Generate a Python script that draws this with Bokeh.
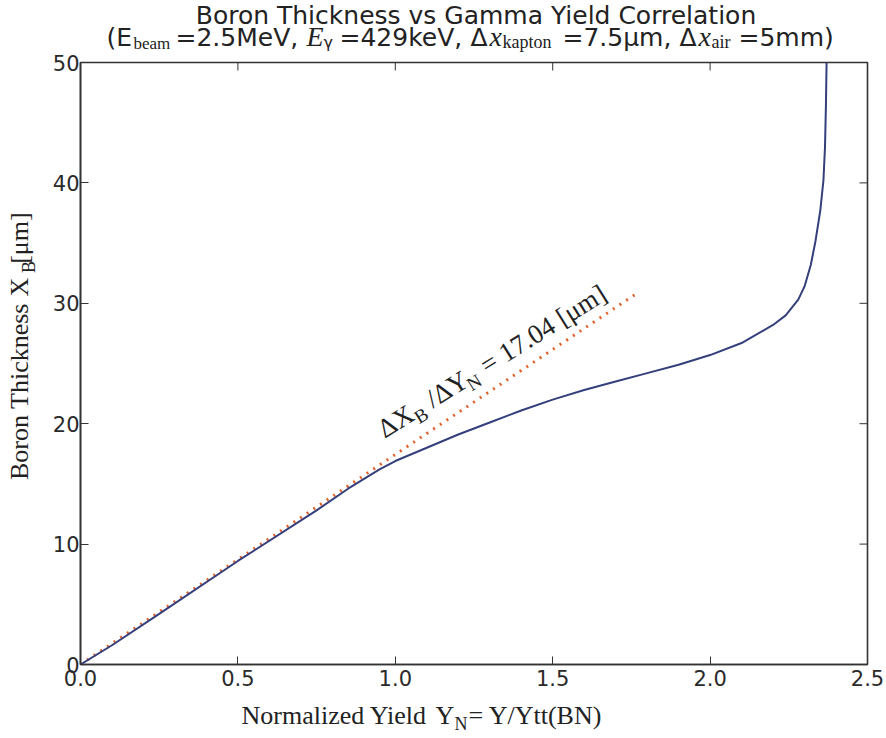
import math
from bokeh.plotting import figure
from bokeh.layouts import column, row
from bokeh.models import Range1d, Label, FixedTicker
from bokeh.embed import file_html
from bokeh.resources import INLINE

# ---------------- data ----------------
yield_norm = [0.0, 0.1, 0.25, 0.5, 0.75, 0.85, 0.95, 1.0, 1.1, 1.2, 1.3, 1.4, 1.5,
              1.6, 1.7, 1.8, 1.9, 2.0, 2.1, 2.2, 2.24, 2.28, 2.30, 2.32, 2.335,
              2.35, 2.36, 2.365, 2.368, 2.37]
thickness = [0.0, 1.6, 4.2, 8.6, 12.8, 14.6, 16.2, 16.9, 18.0, 19.1, 20.1, 21.1, 22.0,
             22.8, 23.5, 24.2, 24.9, 25.7, 26.7, 28.2, 29.0, 30.3, 31.4, 33.2, 35.2,
             37.7, 40.2, 43.0, 46.5, 50.0]
fit_x = [0.0, 1.76]
fit_y = [0.0, 30.7]
slope_value = "17.04"
x_ticks = [0.0, 0.5, 1.0, 1.5, 2.0, 2.5]
y_ticks = [0, 10, 20, 30, 40, 50]
x_range = (0.0, 2.5)
y_range = (0.0, 50.0)

# ---------------- layout (page pixels) ----------------
TOTAL_W = 884
TOP_H = 52              # title panel
LEFT_W = 48             # y-label panel
MAIN_W = TOTAL_W - LEFT_W
ML, MR, MT, MB = 32, 17, 10, 34
MAIN_H = MT + 602 + MB
BOT_H = 736 - TOP_H - MAIN_H   # x-label panel
FL, FR = LEFT_W + ML, LEFT_W + MAIN_W - MR
FT, FB = TOP_H + MT, TOP_H + MAIN_H - MB

def X(px):
    return x_range[0] + (px - FL) / (FR - FL) * (x_range[1] - x_range[0])

def Y(py):
    return y_range[0] + (FB - py) / (FB - FT) * (y_range[1] - y_range[0])

TXT = "#222222"
SANS = "DejaVu Sans"
SER = "Liberation Serif"
K = 0.32   # measured drift of the drawn baseline (in em), compensated below

def mk_label(px, py, text, font=SANS, size=22, style="normal", align="left", angle=0.0,
             to_data=None):
    """px, py: wanted baseline anchor in page pixels."""
    if abs(angle - math.pi / 2) < 1e-6:
        qx = px - 0.47 * size
        qy = py + 0.77 * size
    else:
        qx = px - K * size * math.sin(angle)
        qy = py - K * size * math.cos(angle)
    if to_data is not None:
        qx, qy = to_data(qx, qy)
    return Label(x=qx, y=qy, text=text, text_font=font, text_font_size=f"{size}px",
                 text_font_style=style, text_align=align, text_baseline="alphabetic",
                 text_color=TXT, angle=angle)

def text_panel(w, h, x0, y0):
    f = figure(width=w, height=h, x_range=Range1d(x0, x0 + w), y_range=Range1d(y0 + h, y0),
               output_backend="svg", toolbar_location=None, min_border=0, title=None,
               x_axis_location=None, y_axis_location=None)
    f.xgrid.grid_line_color = None
    f.ygrid.grid_line_color = None
    f.outline_line_color = None
    f.background_fill_color = "white"
    f.border_fill_color = "white"
    return f

# ---------------- main plot ----------------
p = figure(width=MAIN_W, height=MAIN_H, x_range=Range1d(*x_range), y_range=Range1d(*y_range),
           output_backend="svg", toolbar_location=None, title=None,
           min_border_left=ML, min_border_right=MR, min_border_top=MT, min_border_bottom=MB)
p.xgrid.grid_line_color = None
p.ygrid.grid_line_color = None
p.outline_line_color = "#333333"
p.outline_line_width = 1.6
p.background_fill_color = "white"
p.border_fill_color = "white"

AX_COL = "#333333"
for ax in (p.xaxis[0], p.yaxis[0]):
    ax.major_tick_in = 8
    ax.major_tick_out = 0
    ax.minor_tick_line_color = None
    ax.axis_line_color = AX_COL
    ax.axis_line_width = 1.6
    ax.major_tick_line_color = AX_COL
    ax.major_tick_line_width = 1.0
    ax.major_label_text_font = SANS
    ax.major_label_text_font_size = "21px"
    ax.major_label_text_color = "#2a2a2a"
p.xaxis[0].ticker = FixedTicker(ticks=x_ticks)
p.yaxis[0].ticker = FixedTicker(ticks=y_ticks)
p.xaxis[0].major_label_overrides = {t: f"{t:.1f}" for t in x_ticks}
p.xaxis[0].major_label_standoff = 5
p.yaxis[0].major_label_standoff = 1

# inward ticks on the top and right edges (matplotlib style box)
tick_dy = 8 / (FB - FT) * (y_range[1] - y_range[0])
tick_dx = 8 / (FR - FL) * (x_range[1] - x_range[0])
p.segment(x0=x_ticks, y0=[y_range[1]] * len(x_ticks), x1=x_ticks,
          y1=[y_range[1] - tick_dy] * len(x_ticks), line_color=AX_COL, line_width=1.0)
p.segment(x0=[x_range[1]] * len(y_ticks), y0=y_ticks, x1=[x_range[1] - tick_dx] * len(y_ticks),
          y1=y_ticks, line_color=AX_COL, line_width=1.0)

p.line(fit_x, fit_y, line_color="#e0622a", line_width=3, line_dash="2 6")
p.line(yield_norm, thickness, line_color="#343f7c", line_width=2)

# slope annotation along the dotted line: (text, size, sub offset, advance px)
a = math.radians(32)
ox, oy = 384, 438
fs, ss = 27, 19
pieces = [("ΔX", fs, 0.0, 37.0), ("B", ss, 6.0, 20.0), ("/ΔY", fs, 0.0, 42.0),
          ("N", ss, 6.0, 22.0), ("= " + slope_value + " [μm]", fs, 0.0, 0.0)]
d = 0.0
for t, s, off, adv in pieces:
    px = ox + d * math.cos(a) + off * math.sin(a)
    py = oy - d * math.sin(a) + off * math.cos(a)
    p.add_layout(mk_label(px, py, t, font=SER, size=s, angle=a,
                          to_data=lambda u, v: (X(u), Y(v))))
    d += adv

# ---------------- title panel ----------------
T = text_panel(TOTAL_W, TOP_H, 0, 0)
T.add_layout(mk_label((FL + FR) / 2 + 2, 23, "Boron Thickness vs Gamma Yield Correlation",
                      size=25, align="center"))
B2, S2 = 45, 48
# (text, font, size, style, baseline, advance px)
title2 = [
    ("(E", SANS, 25, "normal", B2, 27),
    ("beam", SER, 17, "normal", S2, 42),
    ("=2.5MeV,", SANS, 25, "normal", B2, 131),
    ("E", SER, 28, "italic", B2, 17),
    ("γ", SANS, 16, "normal", S2 - 1, 16),
    ("=429keV,", SANS, 25, "normal", B2, 131),
    ("Δ", SANS, 25, "normal", B2, 19),
    ("x", SER, 28, "italic", B2, 13),
    ("kapton", SER, 18, "normal", S2 - 1, 60),
    ("=7.5µm,", SANS, 25, "normal", B2, 117),
    ("Δ", SANS, 25, "normal", B2, 19),
    ("x", SER, 28, "italic", B2, 13),
    ("air", SER, 18, "normal", S2 - 1, 27),
    ("=5mm)", SANS, 25, "normal", B2, 0),
]
xs = 106
for t, f, s, st, b, adv in title2:
    T.add_layout(mk_label(xs, b, t, font=f, size=s, style=st))
    xs += adv

# ---------------- y label panel ----------------
L = text_panel(LEFT_W, MAIN_H, 0, TOP_H)
up = math.pi / 2
ys = 480
L.add_layout(mk_label(31, ys, "Boron Thickness", font=SER, size=26, angle=up))
ys -= 197
L.add_layout(mk_label(31, ys, "X", font=SER, size=26, angle=up))
ys -= 19
L.add_layout(mk_label(37, ys, "B", font=SER, size=18, angle=up))
ys -= 16
L.add_layout(mk_label(31, ys, "[μm]", font=SER, size=26, angle=up))

# ---------------- x label panel ----------------
Bp = text_panel(TOTAL_W, BOT_H, 0, TOP_H + MAIN_H)
xs = 241
Bp.add_layout(mk_label(xs, 723, "Normalized Yield", font=SER, size=26))
xs += 194
Bp.add_layout(mk_label(xs, 723, "Y", font=SER, size=26))
xs += 19
Bp.add_layout(mk_label(xs, 729, "N", font=SER, size=18))
xs += 14
Bp.add_layout(mk_label(xs, 723, "= Y/Ytt(BN)", font=SER, size=26))

layout = column(T, row(L, p), Bp)
open("out.html", "w").write(file_html(layout, INLINE))
